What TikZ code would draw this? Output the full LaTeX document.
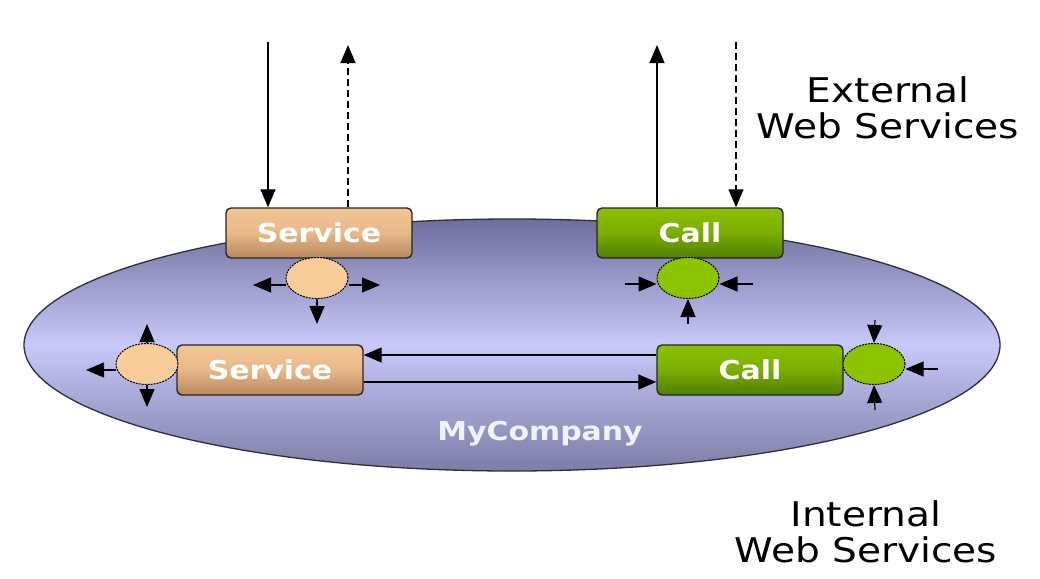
\documentclass[tikz,border=0pt]{standalone}
\usepackage{fontspec}
\newfontfamily\dv{DejaVu Sans}
\usetikzlibrary{shapes.geometric,arrows.meta}
\definecolor{tanTop}{HTML}{F2C696}
\definecolor{tanMid}{HTML}{E9B889}
\definecolor{tanBot}{HTML}{B8875A}
\definecolor{tanDot}{HTML}{F9CD9A}
\definecolor{grTop}{HTML}{8CC000}
\definecolor{grMid}{HTML}{7AAE00}
\definecolor{grBot}{HTML}{4E7E00}
\definecolor{grDot}{HTML}{8CC400}
\definecolor{elEdge}{HTML}{6E6E9C}
\definecolor{elMid}{HTML}{C8C8FA}
\definecolor{elLine}{HTML}{2E2E3E}
\tikzset{
  arr/.style={draw=black, line width=1.2pt, -{Triangle[length=18pt,width=15pt]}},
  dasharr/.style={arr, dash pattern=on 7pt off 4pt},
  boxbase/.style={draw=black!85, line width=1.4pt, rounded corners=5pt,
    minimum width=186pt, minimum height=50pt, inner sep=0pt,
    text=white, font=\dv\bfseries\fontsize{26}{30}\selectfont},
  svcbox/.style={boxbase, top color=tanTop, bottom color=tanBot, middle color=tanMid},
  callbox/.style={boxbase, top color=grTop, bottom color=grBot, middle color=grMid},
  port/.style={ellipse, draw=black, line width=1pt, dash pattern=on 2pt off 1pt,
    minimum width=62pt, minimum height=41pt, inner sep=0pt},
  svcport/.style={port, fill=tanDot},
  callport/.style={port, fill=grDot},
  label/.style={font=\dv\fontsize{34}{36}\selectfont, align=center, text=black}
}
\begin{document}
\begin{tikzpicture}[x=1pt,y=-1pt]
\useasboundingbox (0,0) rectangle (1040,578);
\fill[white] (0,0) rectangle (1040,578);

% company ellipse
\node[ellipse, draw=elLine, line width=1.3pt, minimum width=976pt, minimum height=252pt,
  inner sep=0pt, top color=elEdge, bottom color=elEdge!90!white, middle color=elMid]
  (company) at (512,345) {};
\node[text=white!95!blue, font=\dv\bfseries\fontsize{26}{30}\selectfont] (mc) at (540,434)
  {\scalebox{1.15}[1]{MyCompany}};

% external boxes
\node[svcbox] (s1) at (319,233) {\scalebox{1.15}[1]{Service}};
\node[callbox] (c1) at (690,233) {\scalebox{1.15}[1]{Call}};
\node[svcport] (sp1) at (317,278) {};
\node[callport] (cp1) at (688,278) {};

% internal boxes
\node[svcbox] (s2) at (270,370) {\scalebox{1.15}[1]{Service}};
\node[callbox] (c2) at (750,370) {\scalebox{1.15}[1]{Call}};
\node[svcport] (sp2) at (147,364) {};
\node[callport] (cp2) at (874,364) {};

% external connectors
\coordinate (e1) at (268,42);
\coordinate (e2) at (348,45);
\coordinate (e3) at (657,45);
\coordinate (e4) at (736,42);
\draw[arr] (e1) -- (e1 |- s1.north);
\draw[dasharr] (e2 |- s1.north) -- (e2);
\draw[arr] (e3 |- c1.north) -- (e3);
\draw[dasharr] (e4) -- (e4 |- c1.north);

% top service port arrows
\coordinate (a1) at (253,285);
\coordinate (a2) at (380,285);
\coordinate (a3) at (317,324);
\draw[arr] (sp1.west |- a1) -- (a1);
\draw[arr] (sp1.east |- a2) -- (a2);
\draw[arr] (sp1.south) -- (a3);

% top call port arrows
\coordinate (b1) at (625,284);
\coordinate (b2) at (753,284);
\coordinate (b3) at (688,324);
\draw[arr] (b1) -- (cp1.west |- b1);
\draw[arr] (b2) -- (cp1.east |- b2);
\draw[arr] (b3) -- (cp1.south);

% bottom service port arrows
\coordinate (d1) at (147,324);
\coordinate (d2) at (147,407);
\coordinate (d3) at (86,370);
\draw[arr] (sp2.north) -- (d1);
\draw[arr] (sp2.south) -- (d2);
\draw[arr] (sp2.west |- d3) -- (d3);

% bottom call port arrows
\coordinate (f1) at (875,320);
\coordinate (f2) at (875,410);
\coordinate (f3) at (938,369);
\draw[arr] (f1) -- (cp2.north);
\draw[arr] (f2) -- (cp2.south);
\draw[arr] (f3) -- (cp2.east |- f3);

% internal connections
\draw[arr] (c2.west |- 0,355) -- (s2.east |- 0,355);
\draw[arr] (s2.east |- 0,382) -- (c2.west |- 0,382);

% labels
\node[label] (ext) at (888,108) {\scalebox{1.15}[1]{External}\\\scalebox{1.15}[1]{Web Services}};
\node[label] (int) at (866,532) {\scalebox{1.15}[1]{Internal}\\\scalebox{1.15}[1]{Web Services}};
\end{tikzpicture}
\end{document}
